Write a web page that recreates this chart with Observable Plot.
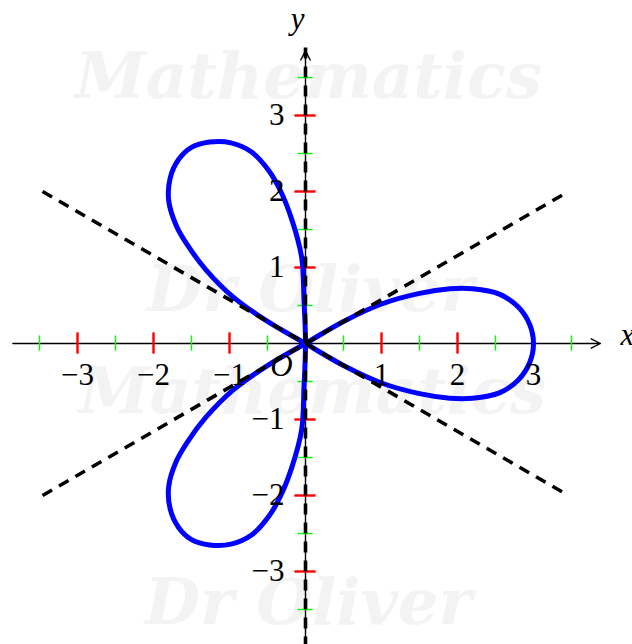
<!DOCTYPE html>
<html>
<head>
<meta charset="utf-8">
<script src="https://cdn.jsdelivr.net/npm/d3@7"></script>
<script src="https://cdn.jsdelivr.net/npm/@observablehq/plot@0.6"></script>
<style>
  html, body { margin: 0; padding: 0; background: #fff; }
</style>
</head>
<body>
<div id="chart"></div>
<script>
// Three-leaved rose, traced once: right petal (upper side), lower-left petal,
// upper-left petal, then back into the right petal (lower side).
const roseX = [
  3.00, 2.95, 2.80, 2.55, 2.20, 1.90, 1.50, 1.00, 0.50, 0.00,
  -0.50, -0.95, -1.31, -1.55, -1.70, -1.80, -1.78, -1.67, -1.50,
  -1.26, -0.98, -0.71, -0.48, -0.33, -0.18, -0.05, -0.02, 0.00,
  -0.02, -0.05, -0.18, -0.33, -0.48, -0.71, -0.98, -1.26, -1.50,
  -1.67, -1.78, -1.80, -1.70, -1.55, -1.31, -0.95, -0.50, 0.00,
  0.50, 1.00, 1.50, 1.90, 2.20, 2.55, 2.80, 2.95
];
const roseY = [
  0.00, 0.25, 0.48, 0.65, 0.72, 0.72, 0.66, 0.52, 0.29, 0.00,
  -0.29, -0.61, -0.97, -1.29, -1.55, -1.88, -2.18, -2.42, -2.58,
  -2.65, -2.64, -2.52, -2.27, -2.01, -1.63, -1.13, -0.58, 0.00,
  0.58, 1.13, 1.63, 2.01, 2.27, 2.52, 2.64, 2.65, 2.58,
  2.42, 2.18, 1.88, 1.55, 1.29, 0.97, 0.61, 0.29, 0.00,
  -0.29, -0.52, -0.66, -0.72, -0.72, -0.65, -0.48, -0.25
];

// Tangents at the pole (θ = π/6, π/2, 5π/6)
const tangentX1 = [-3.46, -3.46, 0];
const tangentY1 = [-2, 2, -4];
const tangentX2 = [3.46, 3.46, 0];
const tangentY2 = [2, -2, 4];

// Axes
const xAxisSpan = [-3.85, 3.88];
const yAxisSpan = [-4, 3.85];
const majorTicks = [-3, -2, -1, 1, 2, 3];
const majorLabels = ["\u22123", "\u22122", "\u22121", "1", "2", "3"];
const minorTicks = [-3.5, -2.5, -1.5, -0.5, 0.5, 1.5, 2.5, 3.5];

const watermarkLines = ["Mathematics", "Dr Oliver", "Mathematics", "Dr Oliver"];

const W = 632, H = 644;
const unit = 76;          // pixels per unit on both axes
const ox = 305, oy = 343; // pixel position of the origin

const serif = "'Liberation Serif', 'Times New Roman', serif";
const labelSize = 31;
const majorHalf = 0.14, minorHalf = 0.1;

const rose = roseX.map((x, i) => ({x, y: roseY[i]}));
const tangents = tangentX1.map((x1, i) => ({x1, y1: tangentY1[i], x2: tangentX2[i], y2: tangentY2[i]}));
const wmStyle = {fill: "#f3f3f3", fontSize: 64, fontStyle: "italic", fontWeight: "bold",
  fontFamily: "'DejaVu Serif', serif", frameAnchor: "top-left", textAnchor: "middle", lineAnchor: "middle"};
const wmPos = [[308, 77], [310, 290], [312, 392], [308, 603]];

const chart = Plot.plot({
  width: W,
  height: H,
  margin: 0,
  x: {domain: [-ox / unit, (W - ox) / unit], axis: null},
  y: {domain: [-(H - oy) / unit, oy / unit], axis: null},
  marks: [
    // faint background lettering
    ...watermarkLines.map((t, i) => Plot.text([t], {...wmStyle, text: d => d, dx: wmPos[i][0], dy: wmPos[i][1]})),

    // axes with arrowheads
    Plot.arrow([0], {x1: xAxisSpan[0], y1: 0, x2: xAxisSpan[1], y2: 0,
      stroke: "black", strokeWidth: 1.4, headLength: 11, headAngle: 55}),
    Plot.arrow([0], {x1: 0, y1: yAxisSpan[0], x2: 0, y2: yAxisSpan[1],
      stroke: "black", strokeWidth: 1.4, headLength: 11, headAngle: 55}),

    // minor ticks
    Plot.ruleX(minorTicks, {x: d => d, y1: -minorHalf, y2: minorHalf, stroke: "#00ff00", strokeWidth: 1.4}),
    Plot.ruleY(minorTicks, {y: d => d, x1: -minorHalf, x2: minorHalf, stroke: "#00ff00", strokeWidth: 1.4}),
    // major ticks
    Plot.ruleX(majorTicks, {x: d => d, y1: -majorHalf, y2: majorHalf, stroke: "#ff0000", strokeWidth: 2.4}),
    Plot.ruleY(majorTicks, {y: d => d, x1: -majorHalf, x2: majorHalf, stroke: "#ff0000", strokeWidth: 2.4}),

    // the rose
    Plot.line(rose, {x: "x", y: "y", curve: "catmull-rom-closed", stroke: "#0000ff", strokeWidth: 5}),

    // tangent lines at the pole
    Plot.link(tangents, {x1: "x1", y1: "y1", x2: "x2", y2: "y2",
      stroke: "black", strokeWidth: 3.6, strokeDasharray: "11,8"}),

    // tick labels
    Plot.text(majorTicks, {x: d => d, y: 0, text: (d, i) => majorLabels[i], dy: 32,
      fontSize: labelSize, fontFamily: serif, fill: "black"}),
    Plot.text(majorTicks, {x: 0, y: d => d, text: (d, i) => majorLabels[i], dx: -21,
      textAnchor: "end", fontSize: labelSize, fontFamily: serif, fill: "black"}),

    // origin and axis names
    Plot.text(["O"], {x: 0, y: 0, text: d => d, dx: -24, dy: 23,
      fontSize: labelSize, fontStyle: "italic", fontFamily: serif}),
    Plot.text(["x"], {x: xAxisSpan[1], y: 0, text: d => d, dx: 27, dy: -8,
      fontSize: labelSize, fontStyle: "italic", fontFamily: serif}),
    Plot.text(["y"], {x: 0, y: yAxisSpan[1], text: d => d, dx: -8, dy: -32,
      fontSize: labelSize, fontStyle: "italic", fontFamily: serif})
  ]
});

document.getElementById("chart").appendChild(chart);
</script>
</body>
</html>
